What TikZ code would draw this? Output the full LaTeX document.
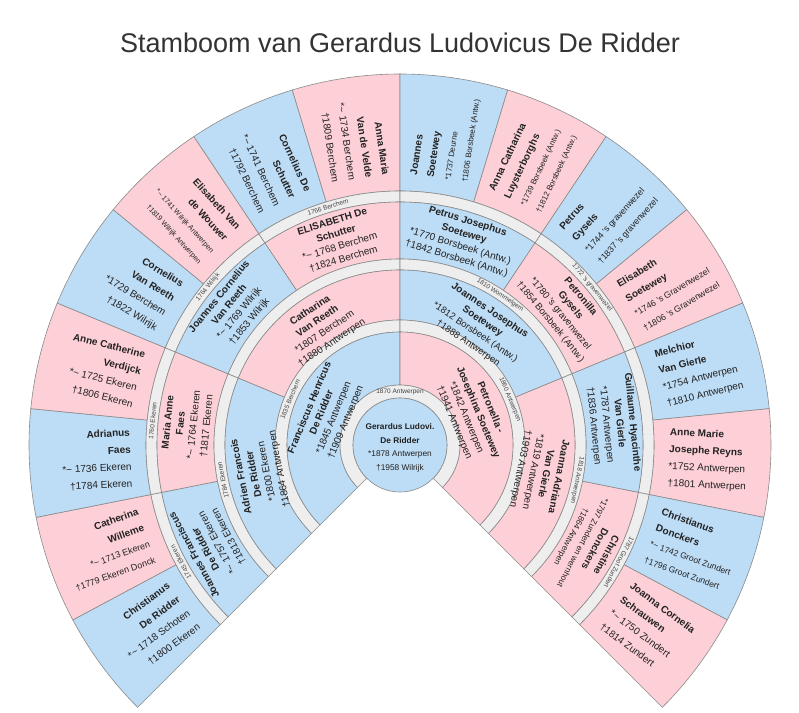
\documentclass[tikz,border=0pt]{standalone}
\usepackage{fontspec}
\setmainfont{Liberation Sans}
\definecolor{mblue}{HTML}{BDDCF5}
\definecolor{fpink}{HTML}{FDD0D8}
\definecolor{bandgray}{HTML}{EEEEEE}
\definecolor{edgegray}{HTML}{8A8A8A}
\definecolor{ink}{HTML}{222222}
\definecolor{titleink}{HTML}{333333}
\pgfdeclarelayer{bg}
\pgfsetlayers{bg,main}
\newcommand\tld{\textasciitilde}
\tikzset{
  wedge/.style={draw=edgegray, line width=0.6pt},
  gfour/.style={inner sep=0pt, text=ink, font=\fontsize{10}{17}\selectfont},
  ginner/.style={inner sep=0pt, text=ink, align=center, font=\fontsize{10}{13}\selectfont},
  bandtext/.style={inner sep=0pt, text=ink!85, font=\fontsize{6.5}{7}\selectfont},
}
% annular wedge: r1 r2 a1 a2 colour
\newcommand\annwedge[5]{%
  \begin{pgfonlayer}{bg}
  \draw[wedge,fill=#5] (#3:#1) arc[start angle=#3,end angle=#4,radius=#1]
     -- (#4:#2) arc[start angle=#4,end angle=#3,radius=#2] -- cycle;
  \end{pgfonlayer}}
% generation 4 (radial text)
\newcommand\pfour[7]{%
  \pgfmathsetmacro\aA{225-#1*16.875}%
  \pgfmathsetmacro\aB{\aA-16.875}%
  \pgfmathsetmacro\aM{\aA-8.4375}%
  \annwedge{254pt}{371pt}{\aA}{\aB}{#2}%
  \ifdim\aM pt>90pt
    \pgfmathsetmacro\myrot{\aM-180}%
    \node[gfour,anchor=east,align=right,rotate=\myrot] (pfour-#1) at (\aM:269pt)
      {\textbf{#3}\\\textbf{#4}\\{\fontsize{#7}{17}\selectfont #5}\\{\fontsize{#7}{17}\selectfont #6}};
  \else
    \pgfmathsetmacro\myrot{\aM}%
    \node[gfour,anchor=west,align=left,rotate=\myrot] (pfour-#1) at (\aM:269pt)
      {\textbf{#3}\\\textbf{#4}\\{\fontsize{#7}{17}\selectfont #5}\\{\fontsize{#7}{17}\selectfont #6}};
  \fi}
% inner generations (tangential text)
\newcommand\pinner[8]{% #1 id #2 a1 #3 a2 #4 r1 #5 r2 #6 rtext #7 colour #8 text
  \pgfmathsetmacro\aM{(#2+#3)/2}%
  \pgfmathsetmacro\myrot{\aM-90}%
  \annwedge{#4}{#5}{#2}{#3}{#7}%
  \node[ginner,rotate=\myrot] (#1) at (\aM:#6) {#8};}
\newcommand\ptext[5]{\textbf{#1}\\\textbf{#2}\\{\fontsize{#5}{13}\selectfont #3}\\{\fontsize{#5}{13}\selectfont #4}}
% band label: name, angle, radius, text
\newcommand\blabel[4]{%
  \pgfmathsetmacro\myrot{#2-90}%
  \node[bandtext,rotate=\myrot] (#1) at (#2:#3) {#4};}
\begin{document}
\begin{tikzpicture}[x=1pt,y=1pt]
\useasboundingbox (-400,-267) rectangle (399,445);
\node[font=\fontsize{27}{32}\selectfont, text=titleink, inner sep=0pt] (title) at (0,402)
  {Stamboom van Gerardus Ludovicus De Ridder};

% ---------- generation 4
\pfour{0}{mblue}{Christianus}{De Ridder}{*\tld{} 1718 Schoten}{†1800 Ekeren}{10}
\pfour{1}{fpink}{Catherina}{Willeme}{*\tld{} 1713 Ekeren}{†1779 Ekeren Donck}{9}
\pfour{2}{mblue}{Adrianus}{Faes}{*\tld{} 1736 Ekeren}{†1784 Ekeren}{10}
\pfour{3}{fpink}{Anne Catherine}{Verdijck}{*\tld{} 1725 Ekeren}{†1806 Ekeren}{10}
\pfour{4}{mblue}{Cornelius}{Van Reeth}{*1729 Berchem}{†1822 Wilrijk}{10}
\pfour{5}{fpink}{Elisabeth Van}{de Wouwer}{*\tld{} 1741 Wilrijk Antwerpen}{†1819 Wilrijk Antwerpen}{7.2}
\pfour{6}{mblue}{Cornelius De}{Schutter}{*\tld{} 1741 Berchem}{†1792 Berchem}{10}
\pfour{7}{fpink}{Anna Maria}{Van de Velde}{*\tld{} 1734 Berchem}{†1809 Berchem}{10}
\pfour{8}{mblue}{Joannes}{Soetewey}{*1737 Deurne}{†1806 Borsbeek (Antw.)}{7.9}
\pfour{9}{fpink}{Anna Catharina}{Luysterborghs}{*1739 Borsbeek (Antw.)}{†1812 Borsbeek (Antw.)}{7.9}
\pfour{10}{mblue}{Petrus}{Gysels}{*1744 's gravenwezel}{†1837 's gravenwezel}{8.8}
\pfour{11}{fpink}{Elisabeth}{Soetewey}{*1746 's Gravenwezel}{†1806 's Gravenwezel}{8.8}
\pfour{12}{mblue}{Melchior}{Van Gierle}{*1754 Antwerpen}{†1810 Antwerpen}{10}
\pfour{13}{fpink}{Anne Marie}{Josephe Reyns}{*1752 Antwerpen}{†1801 Antwerpen}{10}
\pfour{14}{mblue}{Christianus}{Donckers}{*\tld{} 1742 Groot Zundert}{†1796 Groot Zundert}{8.5}
\pfour{15}{fpink}{Joanna Cornelia}{Schrauwen}{*\tld{} 1750 Zundert}{†1814 Zundert}{10}

% ---------- band between gen 3 and gen 4
\annwedge{243pt}{254pt}{225}{191.25}{bandgray}
\annwedge{243pt}{254pt}{191.25}{157.5}{bandgray}
\annwedge{243pt}{254pt}{157.5}{123.75}{bandgray}
\annwedge{243pt}{254pt}{123.75}{90}{bandgray}
\annwedge{243pt}{254pt}{90}{56.25}{bandgray}
\annwedge{243pt}{254pt}{56.25}{22.5}{bandgray}
\annwedge{243pt}{254pt}{22.5}{-11.25}{bandgray}
\annwedge{243pt}{254pt}{-11.25}{-45}{bandgray}
\blabel{m3a}{208.125}{248.5pt}{1745 Ekeren}
\blabel{m3b}{174.375}{248.5pt}{1760 Ekeren}
\blabel{m3c}{140.625}{248.5pt}{1764 Wilrijk}
\blabel{m3d}{106.875}{248.5pt}{1766 Berchem}
\blabel{m3f}{39.375}{248.5pt}{1772 's gravenwezel}
\blabel{m3h}{-28.125}{248.5pt}{1787 Groot Zundert}

% ---------- generation 3
\pinner{pthree-0}{225}{191.25}{186pt}{243pt}{214pt}{mblue}{\ptext{Joannes Franciscus}{De Ridder}{*\tld{} 1757 Ekeren}{†1813 Ekeren}{10}}
\pinner{pthree-1}{191.25}{157.5}{186pt}{243pt}{214pt}{fpink}{\ptext{Maria Anne}{Faes}{*\tld{} 1764 Ekeren}{†1817 Ekeren}{10}}
\pinner{pthree-2}{157.5}{123.75}{186pt}{243pt}{214pt}{mblue}{\ptext{Joannes Cornelius}{Van Reeth}{*\tld{} 1769 Wilrijk}{†1853 Wilrijk}{10}}
\pinner{pthree-3}{123.75}{90}{186pt}{243pt}{214pt}{fpink}{\ptext{ELISABETH De}{Schutter}{*\tld{} 1768 Berchem}{†1824 Berchem}{10}}
\pinner{pthree-4}{90}{56.25}{186pt}{243pt}{214pt}{mblue}{\ptext{Petrus Josephus}{Soetewey}{*1770 Borsbeek (Antw.)}{†1842 Borsbeek (Antw.)}{10}}
\pinner{pthree-5}{56.25}{22.5}{186pt}{243pt}{214pt}{fpink}{\ptext{Petronilla}{Gysels}{*1780 's gravenwezel}{†1854 Borsbeek (Antw.)}{9.5}}
\pinner{pthree-6}{22.5}{-11.25}{186pt}{243pt}{214pt}{mblue}{\ptext{Guillaume Hyacinthe}{Van Gierle}{*1787 Antwerpen}{†1836 Antwerpen}{10}}
\pinner{pthree-7}{-11.25}{-45}{186pt}{243pt}{214pt}{fpink}{\ptext{Christine}{Donckers}{*1797 Zundert en wernhout}{†1864 Antwerpen}{8.2}}

% ---------- band between gen 2 and gen 3
\annwedge{175pt}{186pt}{225}{157.5}{bandgray}
\annwedge{175pt}{186pt}{157.5}{90}{bandgray}
\annwedge{175pt}{186pt}{90}{22.5}{bandgray}
\annwedge{175pt}{186pt}{22.5}{-45}{bandgray}
\blabel{m2a}{191.25}{180.5pt}{1784 Ekeren}
\blabel{m2c}{56.25}{180.5pt}{1810 Wommelgem}
\blabel{m2d}{-11.25}{180.5pt}{1818 Antwerpen}

% ---------- generation 2
\pinner{ptwo-0}{225}{157.5}{125pt}{175pt}{142pt}{mblue}{\ptext{Adrien Francois}{De Ridder}{*1800 Ekeren}{†1864 Antwerpen}{10}}
\pinner{ptwo-1}{157.5}{90}{125pt}{175pt}{142pt}{fpink}{\ptext{Catharina}{Van Reeth}{*1807 Berchem}{†1880 Antwerpen}{10}}
\pinner{ptwo-2}{90}{22.5}{125pt}{175pt}{142pt}{mblue}{\ptext{Joannes Josephus}{Soetewey}{*1812 Borsbeek (Antw.)}{†1888 Antwerpen}{9.5}}
\pinner{ptwo-3}{22.5}{-45}{125pt}{175pt}{142pt}{fpink}{\ptext{Joanna Adriana}{Van Gierle}{*1819 Antwerpen}{†1903 Antwerpen}{10}}

% ---------- band between gen 1 and gen 2
\annwedge{113pt}{125pt}{225}{90}{bandgray}
\annwedge{113pt}{125pt}{90}{-45}{bandgray}
\blabel{m1a}{157.5}{119pt}{1835 Berchem}
\blabel{m1b}{22.5}{119pt}{1860 Antwerpen}

% ---------- generation 1
\pinner{pone-0}{225}{90}{60pt}{113pt}{78pt}{mblue}{\ptext{Franciscus Henricus}{De Ridder}{*1845 Antwerpen}{†1909 Antwerpen}{10}}
\pinner{pone-1}{90}{-45}{60pt}{113pt}{78pt}{fpink}{\ptext{Petronella -}{Josephina Soetewey}{*1842 Antwerpen}{†1941 Antwerpen}{10}}

% ---------- band around the centre
\annwedge{47pt}{60pt}{225}{-45}{bandgray}
\blabel{m0}{90}{53.5pt}{1870 Antwerpen}

% ---------- centre person
\begin{pgfonlayer}{bg}
\draw[wedge,fill=mblue] (0,0) circle[radius=47pt];
\end{pgfonlayer}
\node[inner sep=0pt, text=ink, align=center, font=\fontsize{8.3}{13.5}\selectfont] (root) at (0,-3)
  {\textbf{Gerardus Ludovi.}\\\textbf{De Ridder}\\{\fontsize{8.3}{11.5}\selectfont *1878 Antwerpen}\\{\fontsize{8.3}{11.5}\selectfont †1958 Wilrijk}};
\end{tikzpicture}
\end{document}
